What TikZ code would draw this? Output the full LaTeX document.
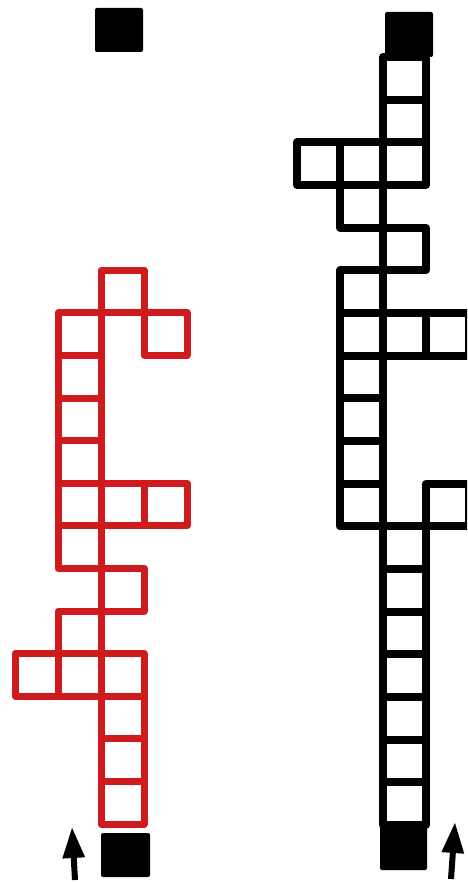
\documentclass[tikz,border=0pt]{standalone}
\usetikzlibrary{arrows.meta}
\definecolor{trailred}{RGB}{208,27,30}
\begin{document}
\begin{tikzpicture}[x=1pt, y=-1pt,
  cell/.style={draw, line width=7pt, line join=round, inner sep=0pt, outer sep=0pt,
    minimum width=43pt, minimum height=42.6pt},
  redcell/.style={cell, draw=trailred},
  blackcell/.style={cell, draw=black, line width=8pt},
  goal/.style={fill=black, rounded corners=2pt, inner sep=0pt, outer sep=0pt,
    minimum width=48pt, minimum height=44pt},
  mover/.style={line width=6pt, -{Triangle[length=31pt, width=21pt]}}]
\clip (0,0) rectangle (467,882);

% left trail
\foreach \c/\k in {2/0,2/1,2/2,0/3,1/3,2/3,1/4,2/5,1/6,1/7,2/7,3/7,1/8,1/9,1/10,1/11,3/11,2/12}
  \node[redcell] (l-\c-\k) at ({36.5+43*\c},{802.7-42.6*\k}) {};
\node[goal, minimum width=49pt] (lstart) at (125.5,855) {};
\node[goal] (lend) at (119,30) {};
\coordinate (ltail) at (75,880);
\coordinate (ltip) at (72,827);
\draw[mover] (ltail) -- (ltip);

% right trail
\foreach \c/\k in {2/0,2/1,2/2,2/3,2/4,2/5,2/6,1/7,3/7,1/8,1/9,1/10,1/11,2/11,3/11,1/12,2/13,1/14,0/15,1/15,2/15,2/16,2/17}
  \node[blackcell] (r-\c-\k) at ({318.5+43*\c},{803.7-42.67*\k}) {};
\node[goal, minimum width=47pt, minimum height=45pt] (rstart) at (403.5,847.5) {};
\node[goal, minimum height=45pt] (rend) at (409,34.5) {};
\coordinate (rtail) at (451,879);
\coordinate (rtip) at (455,822);
\draw[mover] (rtail) -- (rtip);
\end{tikzpicture}
\end{document}
